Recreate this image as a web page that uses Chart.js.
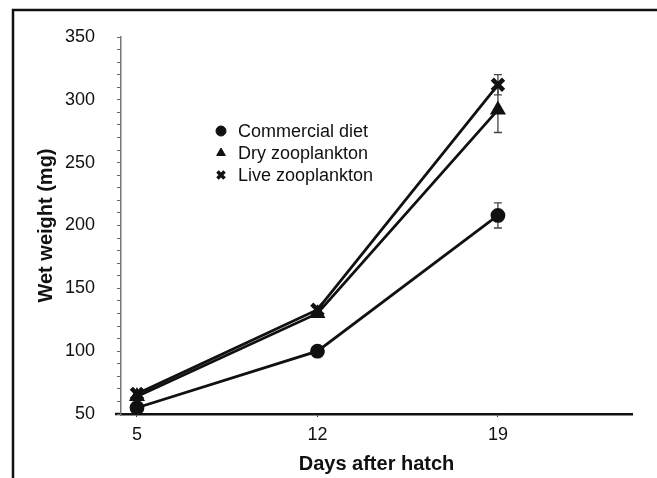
<!DOCTYPE html>
<html>
<head>
<meta charset="utf-8">
<script src="https://cdn.jsdelivr.net/npm/chart.js@4.4.1/dist/chart.umd.min.js"></script>
<style>
  body { margin: 0; background: #fff; }
  canvas { display: block; }
</style>
</head>
<body>
<canvas id="myChart" width="657" height="478"></canvas>
<script>
// values
var days = [5, 12, 19];
var seriesNames = ['Commercial diet', 'Dry zooplankton', 'Live zooplankton'];
var commercial = [55, 100, 208];
var dryZoo = [64, 130, 292];
var liveZoo = [66, 133, 312];
var commercialErr = [0, 0, 10];
var dryErr = [0, 2, 18];
var liveErr = [0, 0, 8];
var yTicks = [50, 100, 150, 200, 250, 300, 350];

function toPoints(vals) {
  var pts = [];
  for (var i = 0; i < days.length; i++) {
    pts.push({x: days[i], y: vals[i]});
  }
  return pts;
}

// frame around the figure (left and top edges only, like the scan)
var framePlugin = {
  id: 'frame',
  beforeDraw: function(chart) {
    var ctx = chart.ctx;
    ctx.save();
    ctx.strokeStyle = '#111';
    ctx.lineWidth = 2.5;
    ctx.beginPath();
    ctx.moveTo(13, 478);
    ctx.lineTo(13, 10);
    ctx.lineTo(657, 10);
    ctx.stroke();
    // x axis line runs a little past the y axis
    ctx.lineWidth = 2.5;
    ctx.beginPath();
    ctx.moveTo(115, chart.chartArea.bottom);
    ctx.lineTo(chart.chartArea.left, chart.chartArea.bottom);
    ctx.stroke();
    ctx.restore();
  }
};

// vertical error bars
var errorBarPlugin = {
  id: 'errorBars',
  beforeDatasetsDraw: function(chart) {
    var ctx = chart.ctx;
    var xs = chart.scales.x, ys = chart.scales.y;
    ctx.save();
    ctx.strokeStyle = '#444';
    ctx.lineWidth = 1.3;
    chart.data.datasets.forEach(function(ds) {
      var errs = ds.errors;
      ds.data.forEach(function(p, i) {
        if (!errs[i]) return;
        var px = xs.getPixelForValue(p.x);
        var top = ys.getPixelForValue(p.y + errs[i]);
        var bot = ys.getPixelForValue(p.y - errs[i]);
        ctx.beginPath();
        ctx.moveTo(px, top); ctx.lineTo(px, bot);
        ctx.moveTo(px - 4, top); ctx.lineTo(px + 4, top);
        ctx.moveTo(px - 4, bot); ctx.lineTo(px + 4, bot);
        ctx.stroke();
      });
    });
    ctx.restore();
  }
};

// legend sits inside the plot
var innerLegend = {
  id: 'innerLegend',
  afterDraw: function(chart) {
    var ctx = chart.ctx;
    ctx.save();
    ctx.font = '18px "Liberation Sans", Arial, sans-serif';
    ctx.textBaseline = 'middle';
    chart.data.datasets.forEach(function(ds, i) {
      var y = 131 + i * 22;
      var isCross = ds.pointStyle === 'crossRot';
      ctx.strokeStyle = '#111';
      ctx.fillStyle = '#111';
      ctx.lineWidth = isCross ? 3.5 : 1;
      Chart.helpers.drawPoint(ctx, {
        pointStyle: ds.pointStyle,
        radius: isCross ? 5 : 5,
        borderWidth: isCross ? 3.5 : 1,
        rotation: 0
      }, 221, y);
      ctx.fillStyle = '#111';
      ctx.fillText(ds.label, 238, y + 1);
    });
    ctx.restore();
  }
};

var ctx = document.getElementById('myChart').getContext('2d');
var myChart = new Chart(ctx, {
  type: 'line',
  data: {
    datasets: [{
      label: seriesNames[0],
      data: toPoints(commercial),
      errors: commercialErr,
      pointStyle: 'circle',
      pointRadius: 6,
      borderColor: '#111',
      backgroundColor: '#111',
      borderWidth: 2.8
    }, {
      label: seriesNames[1],
      data: toPoints(dryZoo),
      errors: dryErr,
      pointStyle: 'triangle',
      pointRadius: 6.5,
      borderColor: '#111',
      backgroundColor: '#111',
      borderWidth: 2.8
    }, {
      label: seriesNames[2],
      data: toPoints(liveZoo),
      errors: liveErr,
      pointStyle: 'crossRot',
      pointRadius: 8,
      pointBorderWidth: 4.5,
      borderColor: '#111',
      backgroundColor: '#111',
      borderWidth: 2.8
    }]
  },
  options: {
    responsive: false,
    animation: false,
    devicePixelRatio: 1,
    layout: { padding: { left: 0, top: 37, right: 25, bottom: 0 } },
    plugins: {
      legend: { display: false },
      tooltip: { enabled: false }
    },
    scales: {
      x: {
        type: 'linear',
        min: 4.38,
        max: 24.2,
        afterBuildTicks: function(scale) {
          scale.ticks = days.map(function(v) { return {value: v}; });
        },
        afterFit: function(scale) { scale.height = 64; },
        grid: { drawOnChartArea: false, tickLength: 3, color: '#333' },
        border: { color: '#111', width: 2.5 },
        ticks: {
          color: '#111',
          padding: 7,
          font: { family: '"Liberation Sans", Arial, sans-serif', size: 18 }
        },
        title: {
          display: true,
          text: 'Days after hatch',
          color: '#111',
          padding: { top: 0, bottom: 2 },
          font: { family: '"Liberation Sans", Arial, sans-serif', size: 20, weight: 'bold' }
        }
      },
      y: {
        min: 50,
        max: 350,
        afterBuildTicks: function(scale) {
          var t = [];
          for (var v = 50; v <= 350; v += 10) t.push({value: v});
          scale.ticks = t;
        },
        afterFit: function(scale) { scale.width = 121; },
        grid: { drawOnChartArea: false, tickLength: 4, color: '#666' },
        border: { color: '#777', width: 1.5 },
        ticks: {
          autoSkip: false,
          color: '#111',
          padding: 22,
          font: { family: '"Liberation Sans", Arial, sans-serif', size: 18 },
          callback: function(v) { return yTicks.indexOf(v) >= 0 ? v : ''; }
        },
        title: {
          display: true,
          text: 'Wet weight (mg)',
          color: '#111',
          padding: { top: 34, bottom: 0 },
          font: { family: '"Liberation Sans", Arial, sans-serif', size: 20, weight: 'bold' }
        }
      }
    }
  },
  plugins: [framePlugin, errorBarPlugin, innerLegend]
});
</script>
</body>
</html>
